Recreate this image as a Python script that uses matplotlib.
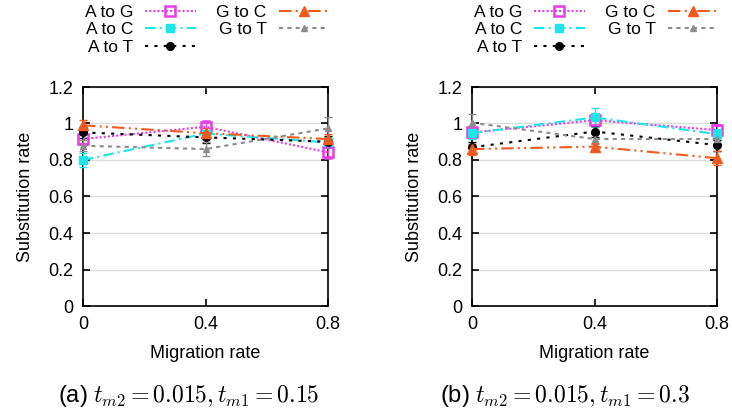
import matplotlib.pyplot as plt
from matplotlib.lines import Line2D

plt.rcParams['font.family'] = ['Liberation Sans', 'DejaVu Sans']
plt.rcParams['mathtext.fontset'] = 'cm'

# Migration rates (x axis)
migration = [0, 0.4, 0.8]

series_names = ['A to G', 'A to C', 'A to T', 'G to C', 'G to T']

# Panel (a): t_m2 = 0.015, t_m1 = 0.15
a_vals = {
    'A to G': [0.915, 0.982, 0.842],
    'A to C': [0.800, 0.945, 0.896],
    'A to T': [0.951, 0.924, 0.900],
    'G to C': [0.990, 0.947, 0.915],
    'G to T': [0.878, 0.860, 0.973],
}
a_errs = {
    'A to G': [0.03, 0.03, 0.03],
    'A to C': [0.04, 0.03, 0.03],
    'A to T': [0.03, 0.03, 0.03],
    'G to C': [0.03, 0.03, 0.03],
    'G to T': [0.03, 0.04, 0.06],
}

# Panel (b): t_m2 = 0.015, t_m1 = 0.3
b_vals = {
    'A to G': [0.951, 1.018, 0.964],
    'A to C': [0.947, 1.033, 0.942],
    'A to T': [0.870, 0.956, 0.882],
    'G to C': [0.860, 0.873, 0.810],
    'G to T': [1.004, 0.915, 0.915],
}
b_errs = {
    'A to G': [0.03, 0.03, 0.03],
    'A to C': [0.03, 0.05, 0.03],
    'A to T': [0.03, 0.03, 0.03],
    'G to C': [0.03, 0.02, 0.04],
    'G to T': [0.05, 0.03, 0.03],
}

captions = [r'(a) $t_{m2} = 0.015, t_{m1} = 0.15$',
            r'(b) $t_{m2} = 0.015, t_{m1} = 0.3$']

styles = {
    'A to G': dict(color='#e63de6', ls=(0, (1, 1)), marker='s', mfc='none', ms=7, mew=1.8),
    'A to C': dict(color='#1ee6e6', ls=(0, (5, 2, 1, 2)), marker='s', mfc='#1ee6e6', ms=6, mew=1),
    'A to T': dict(color='black', ls=(0, (1.5, 3)), marker='o', mfc='black', ms=5.5, mew=1),
    'G to C': dict(color='#f05a1e', ls=(0, (6, 2, 1, 2, 1, 2)), marker='^', mfc='#f05a1e', ms=7, mew=1),
    'G to T': dict(color='#8c8c8c', ls=(0, (2, 2)), marker='^', mfc='#8c8c8c', ms=5, mew=1),
}

fig = plt.figure(figsize=(7.32, 4.15), dpi=100)
lefts = [83 / 732, 472 / 732]
cap_x = [189 / 732, 565 / 732]
leg_x = [207 / 732, 596 / 732]
panels = [(a_vals, a_errs), (b_vals, b_errs)]

for i, (vals, errs) in enumerate(panels):
    ax = fig.add_axes([lefts[i], 109 / 415, 245 / 732, 219 / 415])
    for name in series_names:
        st = styles[name]
        ax.errorbar(migration, vals[name], yerr=errs[name], color=st['color'],
                    ls=st['ls'], lw=1.5, marker=st['marker'], mfc=st['mfc'],
                    mec=st['color'], ms=st['ms'], mew=st['mew'],
                    capsize=3, elinewidth=1, clip_on=False, zorder=3)
    ax.set_xlim(0, 0.8)
    ax.set_ylim(0, 1.2)
    ax.set_xticks(migration)
    ax.set_xticklabels(['0', '0.4', '0.8'])
    ax.set_yticks([0, 0.2, 0.4, 0.6, 0.8, 1.0, 1.2])
    ax.set_yticklabels(['0', '0.2', '0.4', '0.6', '0.8', '1', '1.2'])
    ax.tick_params(direction='in', top=True, right=True, labelsize=13,
                   length=5, width=1.2, pad=7)
    ax.yaxis.grid(True, color='#dddddd', lw=1)
    ax.set_axisbelow(True)
    for sp in ax.spines.values():
        sp.set_linewidth(1.2)
    ax.set_xlabel('Migration rate', fontsize=13, labelpad=9)
    ax.set_ylabel('Substitution rate', fontsize=13, labelpad=10)

    handles = [Line2D([], [], color=styles[n]['color'], ls=styles[n]['ls'], lw=1.5,
                      marker=styles[n]['marker'], mfc=styles[n]['mfc'],
                      mec=styles[n]['color'], ms=styles[n]['ms'], mew=styles[n]['mew'])
               for n in series_names]
    leg = fig.legend(handles, series_names, loc='upper center',
                     bbox_to_anchor=(leg_x[i], 1 - 5 / 415),
                     ncol=2, frameon=False, markerfirst=False, fontsize=12.5,
                     handlelength=2.9, columnspacing=1.2, labelspacing=0.12,
                     handletextpad=0.7, borderaxespad=0.0, borderpad=0.0)
    for t in leg.get_texts():
        t.set_ha('right')

    fig.text(cap_x[i], 0.045, captions[i], ha='center',
             va='center', fontsize=17)

fig.savefig('out.png', dpi=100)
